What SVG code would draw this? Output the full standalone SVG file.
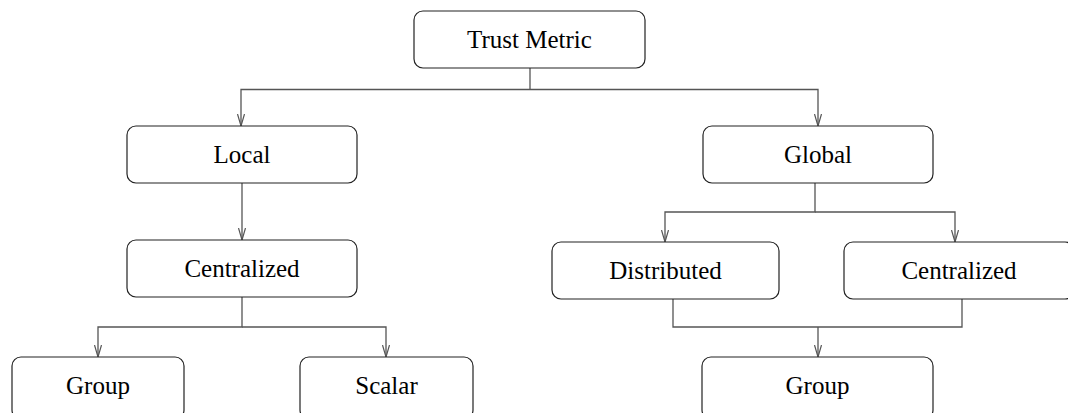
<svg xmlns="http://www.w3.org/2000/svg" width="1068" height="413" viewBox="0 0 1068 413">
<style>
.box{fill:#fff;stroke:#222;stroke-width:1.2}
.lbl{font-family:"Liberation Serif","Times New Roman",serif;font-size:25px;fill:#000;text-anchor:middle}
.con{fill:none;stroke:#555;stroke-width:1.3}
</style>
<defs>
<marker id="arr" viewBox="0 0 12 8" refX="12" refY="4" markerWidth="12" markerHeight="8" markerUnits="userSpaceOnUse" orient="auto">
<path d="M0,0.5 L12,4 L0,7.5" fill="none" stroke="#555" stroke-width="1.2"/>
</marker>
</defs>
<rect width="1068" height="413" fill="#fff"/>
<g id="connectors">
<path class="con" d="M530,68 V89.5"/>
<path class="con" d="M530,89.5 H241 V126" marker-end="url(#arr)"/>
<path class="con" d="M530,89.5 H818 V126" marker-end="url(#arr)"/>
<path class="con" d="M242,183 V240" marker-end="url(#arr)"/>
<path class="con" d="M242,297 V327 H98 V357" marker-end="url(#arr)"/>
<path class="con" d="M242,327 H386 V357" marker-end="url(#arr)"/>
<path class="con" d="M815,183 V212 H665 V242" marker-end="url(#arr)"/>
<path class="con" d="M815,212 H955 V242" marker-end="url(#arr)"/>
<path class="con" d="M673,299 V327 H962 V299"/>
<path class="con" d="M818,327 V357" marker-end="url(#arr)"/>
</g>
<g id="n-trust"><rect class="box" x="414" y="11" width="231" height="57" rx="9"/><text class="lbl" x="529.5" y="47.5">Trust Metric</text></g>
<g id="n-local"><rect class="box" x="127" y="126" width="230" height="57" rx="9"/><text class="lbl" x="242" y="162.5">Local</text></g>
<g id="n-global"><rect class="box" x="703" y="126" width="230" height="57" rx="9"/><text class="lbl" x="818" y="162.5">Global</text></g>
<g id="n-central-l"><rect class="box" x="127" y="240" width="230" height="57" rx="9"/><text class="lbl" x="242" y="276.5">Centralized</text></g>
<g id="n-distributed"><rect class="box" x="552" y="242" width="227" height="57" rx="9"/><text class="lbl" x="665.5" y="278.5">Distributed</text></g>
<g id="n-central-r"><rect class="box" x="844" y="242" width="230" height="57" rx="9"/><text class="lbl" x="959" y="278.5">Centralized</text></g>
<g id="n-group-l"><rect class="box" x="12" y="357" width="172" height="62" rx="9"/><text class="lbl" x="98" y="393.5">Group</text></g>
<g id="n-scalar"><rect class="box" x="300" y="357" width="173" height="62" rx="9"/><text class="lbl" x="386.5" y="393.5">Scalar</text></g>
<g id="n-group-r"><rect class="box" x="702" y="357" width="231" height="62" rx="9"/><text class="lbl" x="817.5" y="393.5">Group</text></g>
</svg>
